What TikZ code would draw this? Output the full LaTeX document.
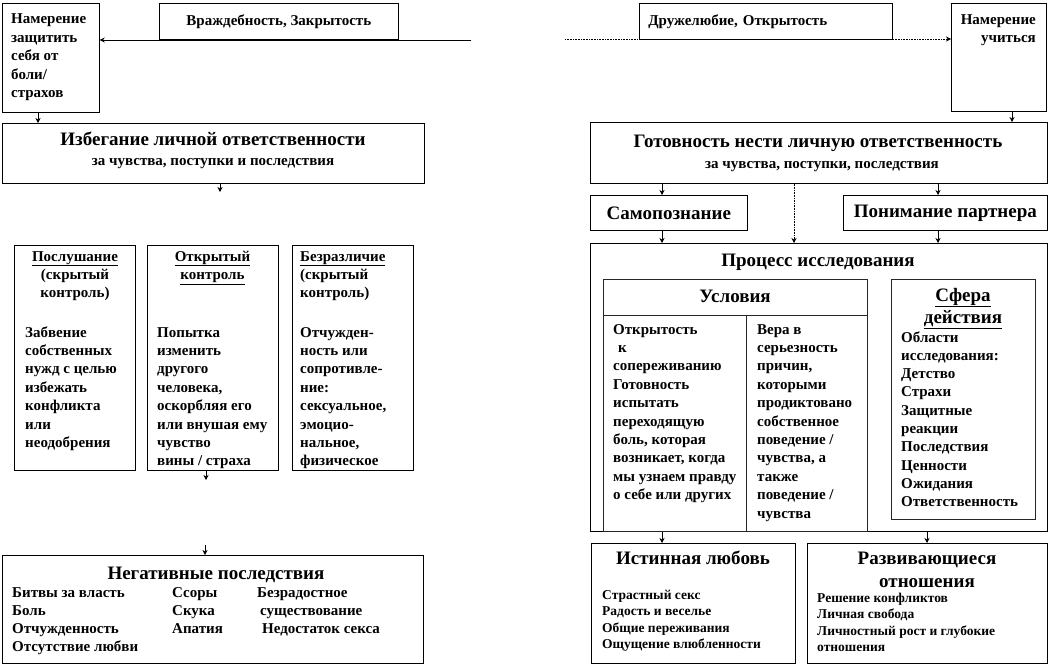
\documentclass[tikz,border=0pt]{standalone}
\usepackage{fontspec}
\setmainfont{Liberation Serif}
\usepackage{tikz}
\usetikzlibrary{arrows.meta,positioning}
\newcommand{\bodyf}{\fontsize{15}{18.4}\selectfont\bfseries}
\newcommand{\headf}{\fontsize{19}{21}\selectfont\bfseries}
\newcommand{\smallf}{\fontsize{13.5}{16.5}\selectfont\bfseries}

\begin{document}
\begin{tikzpicture}[x=1pt, y=-1pt,
  frame/.style={draw=black, line width=0.7pt, inner sep=0pt, anchor=north west},
  inframe/.style={draw=black!85, line width=1pt, inner sep=0pt, anchor=north west},
  txt/.style={font=\bodyf, inner sep=0pt, align=left, anchor=base west},
  head/.style={font=\headf, inner sep=0pt, anchor=base},
  arr/.style={-{Stealth[length=5pt, width=5pt]}, line width=0.6pt}]
  \fill[white] (0,0) rectangle (1050,666);
  \useasboundingbox (0,0) rectangle (1050,666);
  % left half: avoidance
  % (multi-line texts sit on the baseline of their last line)
  \node[frame, minimum width=97, minimum height=109] (intentL) at (2,3) {};
  \node[txt] (intentLt) at (11,97.6) {Намерение\\защитить\\себя от\\боли/\\страхов};
  \node[frame, minimum width=239, minimum height=36, font=\bodyf] (hostile) at (159,3) {Враждебность, Закрытость};
  \coordinate (hostileIn) at (471,40);
  \draw[arr, line width=0.8pt] (hostileIn) -- (hostileIn -| intentL.east);
  \node[frame, minimum width=422, minimum height=60] (avoid) at (2,123) {};
  \node[head] (avoidT) at (213,146) {Избегание личной ответственности};
  \node[txt, anchor=base] (avoidS) at (213,165) {за чувства, поступки и последствия};
  \draw[arr] ([xshift=36pt]intentL.south west) -- ([xshift=36pt]avoid.north west);
  \coordinate (avoidOut) at (220,192);
  \draw[arr] (avoidOut |- avoid.south) -- (avoidOut);
  % three patterns
  \node[frame, minimum width=121, minimum height=225] (obey) at (14,245) {};
  \node[frame, minimum width=131, minimum height=225] (ctrl) at (147,245) {};
  \node[frame, minimum width=121, minimum height=225] (indiff) at (292,245) {};
  \node[txt, anchor=base, align=center] (obeyT) at (75,297.8) {\underline{Послушание}\\(скрытый\\контроль)};
  \node[txt] (obeyB) at (25,447.4) {Забвение\\собственных\\нужд с целью\\избежать\\конфликта\\или\\неодобрения};
  \node[txt, anchor=base, align=center] (ctrlT) at (212.5,279.4) {\underline{Открытый}\\\underline{контроль}};
  \node[txt] (ctrlB) at (157,465.8) {Попытка\\изменить\\другого\\человека,\\оскорбляя его\\или внушая ему\\чувство\\вины / страха};
  \node[txt] (indiffT) at (300,297.8) {\underline{Безразличие}\\(скрытый\\контроль)};
  \node[txt] (indiffB) at (300,465.8) {Отчужден-\\ность или\\сопротивле-\\ние:\\сексуальное,\\эмоцио-\\нальное,\\физическое};
  \coordinate (ctrlOut) at (206,480);
  \draw[arr] (ctrlOut |- ctrl.south) -- (ctrlOut);
  % negative outcome
  \node[frame, minimum width=421, minimum height=108] (neg) at (2,555) {};
  \coordinate (negIn) at (205,545);
  \draw[arr] (negIn) -- (negIn |- neg.north);
  \node[head] (negT) at (216,579) {Негативные последствия};
  \node[txt, font=\fontsize{15}{18}\selectfont\bfseries] (negA) at (12,651) {Битвы за власть\\Боль\\Отчужденность\\Отсутствие любви};
  \node[txt, font=\fontsize{15}{18}\selectfont\bfseries] (negB) at (172,633) {Ссоры\\Скука\\Апатия};
  \node[txt, font=\fontsize{15}{18}\selectfont\bfseries] (negC) at (257,633) {Безрадостное\\\hspace*{3pt}существование\\\hspace*{5pt}Недостаток секса};
  % right half: learning
  \node[frame, minimum width=253, minimum height=36, text width=235, align=left, font=\bodyf] (friendly) at (639,3) {Дружелюбие, Открытость};
  \node[frame, minimum width=95, minimum height=108] (intentR) at (951,3) {};
  \node[txt, anchor=base east, align=right] (intentRt) at (1036,43) {Намерение\\учиться};
  \coordinate (friendIn) at (565,39);
  \draw[arr, densely dotted] (friendIn) -- (friendIn -| intentR.west);
  \node[frame, minimum width=457, minimum height=61] (ready) at (590,122) {};
  \node[head] (readyT) at (818,148) {Готовность нести личную ответственность};
  \node[txt, anchor=base] (readyS) at (822,169) {за чувства, поступки, последствия};
  \coordinate (learnOut) at (1012,0);
  \draw[arr] (learnOut |- intentR.south) -- (learnOut |- ready.north);
  \node[frame, minimum width=157, minimum height=35, font=\headf] (self) at (590,195) {Самопознание};
  \node[frame, minimum width=204, minimum height=35, font=\headf] (partner) at (843,195) {Понимание партнера};
  \node[frame, minimum width=457, minimum height=288] (process) at (590,243) {};
  \node[head] (processT) at (818,266) {Процесс исследования};
  \coordinate (colA) at (662,0);
  \coordinate (colB) at (938,0);
  \coordinate (colC) at (794,0);
  \coordinate (colD) at (927,0);
  \draw[arr] (colA |- ready.south) -- (colA |- self.north);
  \draw[arr] (colB |- ready.south) -- (colB |- partner.north);
  \draw[arr, densely dotted] (colC |- ready.south) -- (colC |- process.north);
  \draw[arr] (colA |- self.south) -- (colA |- process.north);
  \draw[arr] (colB |- partner.south) -- (colB |- process.north);
  % conditions table
  \node[inframe, minimum width=264, minimum height=252] (cond) at (603,279) {};
  \coordinate (condH) at (0,315);
  \coordinate (condV) at (746,0);
  \draw[black!85, line width=1pt] (cond.west |- condH) -- (cond.east |- condH);
  \draw[black!85, line width=1pt] (condV |- condH) -- (condV |- cond.south);
  \node[head] (condT) at (735,302) {Условия};
  \node[txt] (condA) at (613,499.6) {Открытость\\\hspace*{5pt}к\\сопереживанию\\Готовность\\испытать\\переходящую\\боль, которая\\возникает, когда\\мы узнаем правду\\о себе или других};
  \node[txt] (condB) at (757,518) {Вера в\\серьезность\\причин,\\которыми\\продиктовано\\собственное\\поведение /\\чувства, а\\также\\поведение /\\чувства};
  \node[inframe, minimum width=144, minimum height=240] (sphere) at (891,279) {};
  \node[head, align=center] (sphereT) at (963,323) {\underline{Сфера}\\[1pt]\underline{действия}};
  \node[txt, font=\fontsize{15}{18.3}\selectfont\bfseries] (sphereB) at (901,506.7) {Области\\исследования:\\Детство\\Страхи\\Защитные\\реакции\\Последствия\\Ценности\\Ожидания\\Ответственность};
  % results
  \node[frame, minimum width=204, minimum height=120] (love) at (591,543) {};
  \node[frame, minimum width=240, minimum height=120] (devel) at (807,543) {};
  \draw[arr] (colA |- process.south) -- (colA |- love.north);
  \draw[arr] (colD |- process.south) -- (colD |- devel.north);
  \node[head] (loveT) at (693,564) {Истинная любовь};
  \node[txt, font=\smallf] (loveB) at (602,648.5) {Страстный секс\\Радость и веселье\\Общие переживания\\Ощущение влюбленности};
  \node[head, align=center] (develT) at (927,587) {Развивающиеся\\[2pt]отношения};
  \node[txt, font=\smallf] (develB) at (817,651.5) {Решение конфликтов\\Личная свобода\\Личностный рост и глубокие\\отношения};
\end{tikzpicture}
\end{document}
